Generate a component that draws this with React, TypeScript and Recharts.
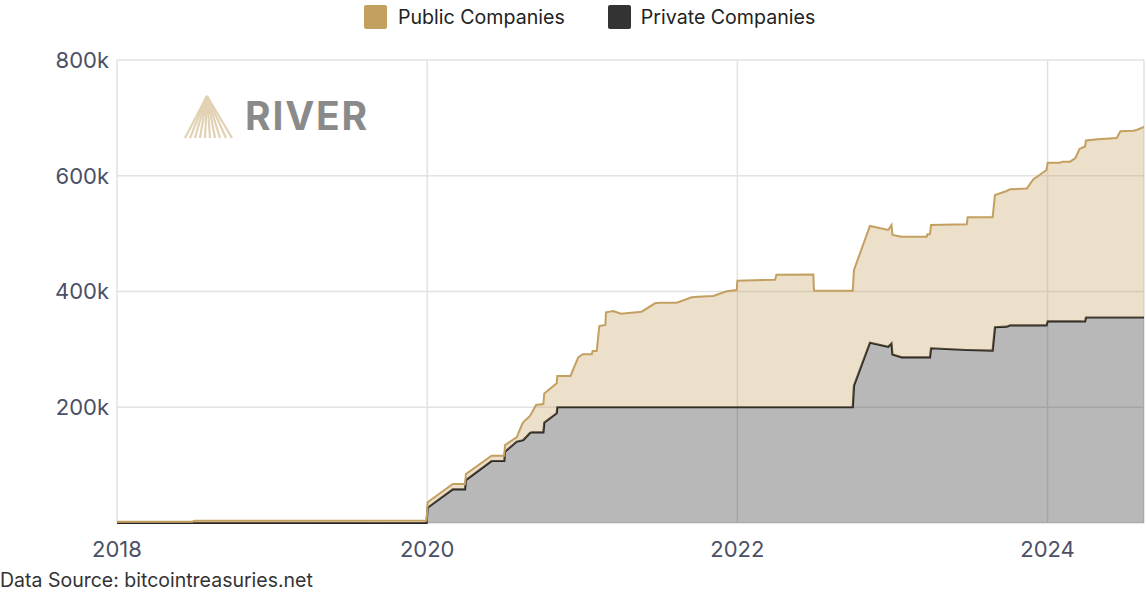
import React from 'react';
import { AreaChart, Area, XAxis, YAxis, CartesianGrid } from 'recharts';

const years = [2018.0, 2018.484, 2018.503, 2019.996, 2020.003, 2020.165, 2020.244, 2020.25, 2020.415, 2020.497,
  2020.502, 2020.577, 2020.61, 2020.62, 2020.663, 2020.674, 2020.702, 2020.749, 2020.755, 2020.835,
  2020.839, 2020.924, 2020.974, 2021.003, 2021.061, 2021.067, 2021.093, 2021.11, 2021.149, 2021.153,
  2021.2, 2021.25, 2021.383, 2021.469, 2021.501, 2021.609, 2021.706, 2021.748, 2021.845, 2021.931,
  2021.996, 2022.0, 2022.243, 2022.252, 2022.49, 2022.494, 2022.744, 2022.752, 2022.855, 2022.973,
  2022.994, 2023.0, 2023.06, 2023.221, 2023.225, 2023.242, 2023.249, 2023.479, 2023.485, 2023.646,
  2023.661, 2023.737, 2023.758, 2023.866, 2023.908, 2023.993, 2024.001, 2024.08, 2024.097, 2024.145,
  2024.18, 2024.206, 2024.242, 2024.248, 2024.325, 2024.446, 2024.47, 2024.553, 2024.575, 2024.622];

const privateHoldings = [0, 0, 0, 0, 26400, 58200, 58200, 74300, 107100, 107100,
  123200, 140500, 142600, 143400, 155500, 156700, 156700, 156700, 173300, 189600,
  200000, 200000, 200000, 200000, 200000, 200000, 200000, 200000, 200000, 200000,
  200000, 200000, 200000, 200000, 200000, 200000, 200000, 200000, 200000, 200000,
  200000, 200000, 200000, 200000, 200000, 200000, 200000, 237300, 311600, 304600,
  310200, 291200, 286300, 286300, 286300, 286300, 301900, 298900, 298900, 297700,
  338200, 339200, 341300, 341300, 341300, 341300, 348500, 348500, 348500, 348500,
  348500, 348500, 348200, 355100, 355100, 355100, 355100, 355100, 355100, 355100];

const publicHoldings = [2200, 2200, 3800, 4300, 9400, 9200, 9200, 10400, 9200, 9200,
  11600, 7600, 26700, 31100, 29400, 33400, 47200, 48900, 50500, 51800,
  54000, 54000, 86000, 91700, 91700, 97200, 97200, 140400, 142100, 164100,
  166300, 161700, 165100, 179600, 180700, 180700, 190000, 191000, 192300, 200400,
  202600, 218700, 220400, 228900, 229400, 201400, 201400, 199900, 201600, 201700,
  204700, 206500, 208400, 208400, 212600, 212600, 213000, 217200, 229300, 230500,
  228600, 234500, 235300, 236700, 252300, 268700, 274100, 274100, 275800, 275800,
  282200, 297800, 302400, 305900, 307900, 310200, 321800, 322800, 324000, 329200];

const xTicks = [2018, 2020, 2022, 2024];
const yTicks = [0, 200000, 400000, 600000, 800000];
const seriesNames = ['Public Companies', 'Private Companies'];
const sourceText = 'Data Source: bitcointreasuries.net';

const chartData = years.map((year, i) => ({
  year,
  private: privateHoldings[i],
  public: publicHoldings[i],
}));

const TAN = '#c4a060';
const DARK = '#262626';
const FONT = 'Inter, "DejaVu Sans", sans-serif';

function Logo() {
  const apex = [207, 96];
  const base = [185, 190, 195, 200, 205, 210, 215, 220, 226, 232];
  return (
    <svg width={200} height={60} style={{ position: 'absolute', left: 0, top: 0, overflow: 'visible' }}>
      {base.map((bx, i) => (
        <line key={i} x1={apex[0]} y1={apex[1]} x2={bx} y2={138} stroke="#e2d2b4" strokeWidth={2.2} />
      ))}
    </svg>
  );
}

export default function App() {
  return (
    <div style={{ position: 'fixed', left: 0, top: 0, width: 1146, height: 592, background: '#fff', fontFamily: FONT, overflow: 'hidden' }}>
      <AreaChart width={1146} height={592} data={chartData} margin={{ top: 60, right: 2, bottom: 39, left: 0 }}>
        <CartesianGrid stroke="#e2e2e2" strokeWidth={1.5} />
        <XAxis
          dataKey="year"
          type="number"
          domain={[2018, 2024.622]}
          ticks={xTicks}
          allowDataOverflow
          axisLine={false}
          tickLine={false}
          height={30}
          tickMargin={12}
          tick={{ fill: '#4b5066', fontSize: 22, fontFamily: FONT }}
        />
        <YAxis
          type="number"
          domain={[0, 800000]}
          ticks={yTicks}
          width={117}
          axisLine={false}
          tickLine={false}
          tickFormatter={(v: number) => (v === 0 ? '' : `${v / 1000}k`)}
          tick={{ fill: '#4b5066', fontSize: 22, fontFamily: FONT }}
        />
        <Area
          type="linear"
          dataKey="private"
          name={seriesNames[1]}
          stackId="a"
          stroke={DARK}
          strokeWidth={2.2}
          fill="#333333"
          fillOpacity={0.35}
          isAnimationActive={false}
          dot={false}
          activeDot={false}
        />
        <Area
          type="linear"
          dataKey="public"
          name={seriesNames[0]}
          stackId="a"
          stroke={TAN}
          strokeWidth={2}
          fill={TAN}
          fillOpacity={0.33}
          isAnimationActive={false}
          dot={false}
          activeDot={false}
        />
      </AreaChart>

      <div style={{ position: 'absolute', left: 364, top: 5, display: 'flex', alignItems: 'center', fontSize: 19.6, color: '#222' }}>
        <span style={{ width: 23, height: 24, background: TAN, borderRadius: 2, display: 'inline-block' }} />
        <span style={{ marginLeft: 11 }}>{seriesNames[0]}</span>
        <span style={{ width: 23, height: 24, background: '#333', borderRadius: 2, display: 'inline-block', marginLeft: 43 }} />
        <span style={{ marginLeft: 10 }}>{seriesNames[1]}</span>
      </div>

      <Logo />
      <div style={{ position: 'absolute', left: 245, top: 92, fontSize: 39, fontWeight: 700, color: '#8a8a8a', letterSpacing: 1.8 }}>RIVER</div>

      <div style={{ position: 'absolute', left: 0, top: 568, fontSize: 19.5, color: '#333' }}>{sourceText}</div>
    </div>
  );
}
